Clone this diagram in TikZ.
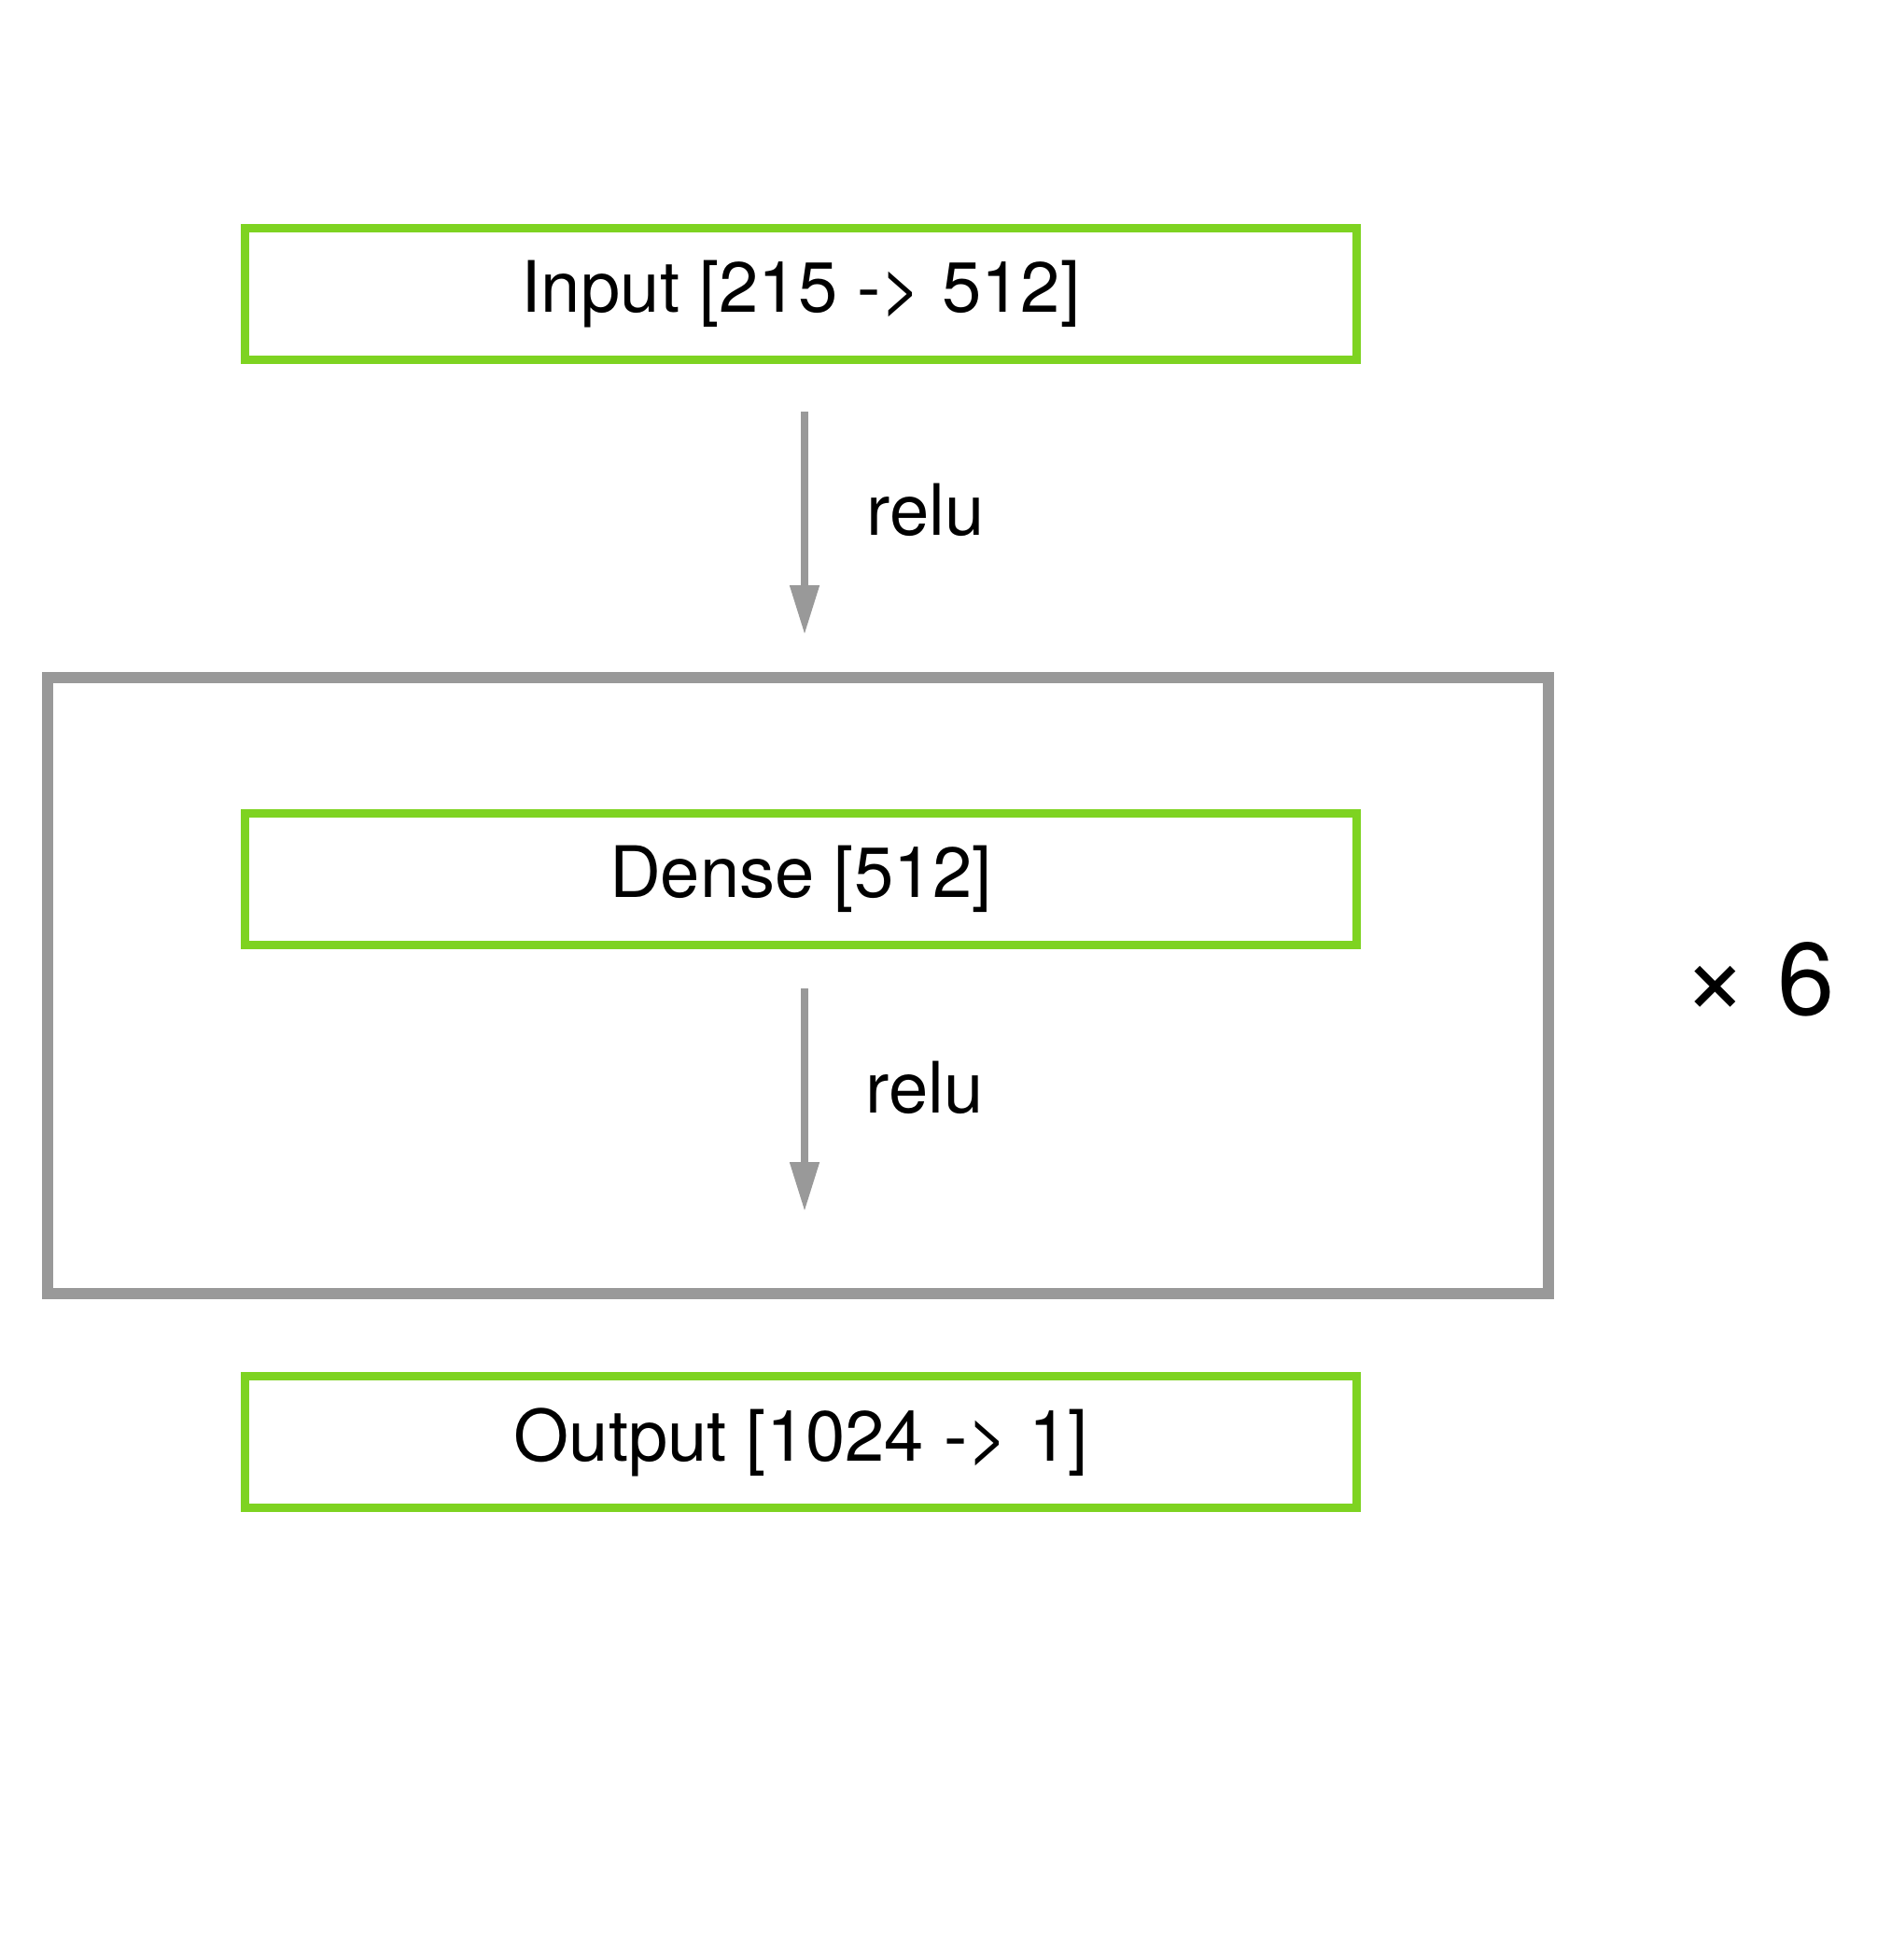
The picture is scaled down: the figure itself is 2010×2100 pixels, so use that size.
\documentclass[tikz,border=0pt]{standalone}
\usepackage{fontspec}
\setmainfont{TeX Gyre Heros}
\usepackage{xcolor}
\usepackage{tikz}
\usetikzlibrary{positioning,calc,arrows.meta}

\definecolor{layergreen}{HTML}{7ED321}
\definecolor{repgray}{HTML}{999999}

\tikzset{
  layerbox/.style={draw=layergreen, line width=4.5pt, inner sep=0pt, outer sep=0pt,
    minimum width=595.5pt, minimum height=70.5pt, font=\fontsize{38}{44}\selectfont},
  flow/.style={draw=repgray, line width=4pt,
    -{Triangle[length=26.5pt, width=15pt]}},
  lbl/.style={inner sep=0pt, font=\fontsize{38}{44}\selectfont}
}

\begin{document}
\begin{tikzpicture}[x=0.5pt, y=-0.5pt]
  \useasboundingbox (0,0) rectangle (2010,2100);

  % Repeated block
  \node[draw=repgray, line width=6pt, inner sep=0pt, outer sep=0pt,
        minimum width=804pt, minimum height=330pt] (rep) at (855, 1056) {};
  \node[lbl, anchor=base, font=\fontsize{55}{60}\selectfont] (times) at (1884, 1087) {\scalebox{1.1}{×} 6};

  % Layers
  \node[layerbox] (inp) at (858, 315) {Input [215 -> 512]};
  \node[layerbox, minimum height=70.25pt] (dense) at (858, 941.75) {Dense [512]};
  \node[layerbox] (outp) at (858, 1545) {Output [1024 -> 1]};

  % Activations
  \draw[flow, shorten <=27.75pt, shorten >=23pt]
    ([xshift=2pt]inp.south) -- ([xshift=2pt]inp.south |- rep.north);
  \node[lbl, anchor=base west] (relua) at (928, 573) {relu};
  \draw[flow, shorten <=23.5pt, shorten >=44pt]
    ([xshift=2pt]dense.south) -- ([xshift=2pt]dense.south |- rep.south);
  \node[lbl, anchor=base west] (relub) at (927, 1192) {relu};
\end{tikzpicture}
\end{document}
